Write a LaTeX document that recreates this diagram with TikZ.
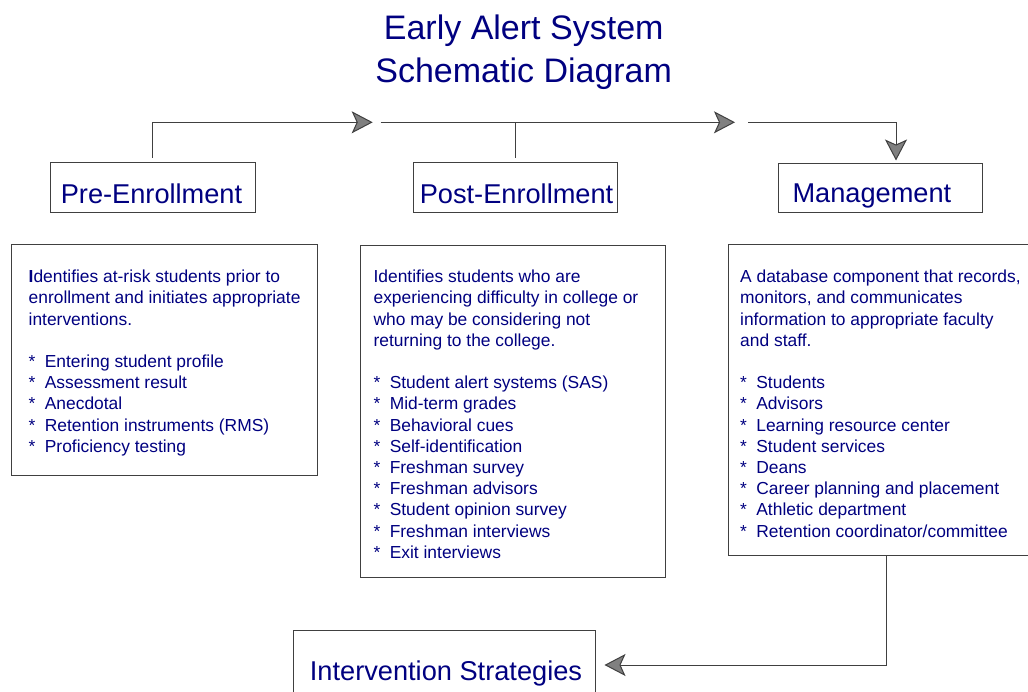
\documentclass[tikz,border=0pt]{standalone}
\usepackage{fontspec}
\setmainfont{Liberation Sans}
\usetikzlibrary{arrows.meta,calc}
\definecolor{navy}{RGB}{0,0,128}
\definecolor{edge}{RGB}{64,64,64}
\definecolor{tipfill}{RGB}{128,128,128}
\newcommand{\bul}[1]{\makebox[16.2pt][l]{*}#1}
\begin{document}
\begin{tikzpicture}[x=1pt,y=1pt,
 box/.style={draw=edge, line width=1pt, rectangle, inner sep=0pt},
 lbl/.style={text=navy, font=\fontsize{27.2}{32}\selectfont, inner sep=0pt, anchor=base west},
 desc/.style={text=navy, font=\fontsize{17.4}{21.2}\selectfont, inner sep=0pt, anchor=north west, align=left},
 ttl/.style={text=navy, font=\fontsize{34}{43.4}\selectfont, inner sep=0pt, anchor=north, align=center},
 conn/.style={draw=edge, line width=1pt},
 arr/.style={conn, -{Stealth[length=21pt,width=22pt,inset=5pt,fill=tipfill]}},
]
\useasboundingbox (0,0) rectangle (1028,-692);

% title
\node[ttl] (title) at (523.7,-9.3) {\rule{0pt}{30pt}Early Alert System\\Schematic Diagram};

% stage boxes
\node[box, minimum width=205pt, minimum height=50pt] (pre) at (152.5,-187.7) {};
\node[lbl] (pretext) at (60.6,-203.3) {Pre-Enrollment};
\node[box, minimum width=204pt, minimum height=50pt] (post) at (515.3,-187.7) {};
\node[lbl] (posttext) at (419.6,-203.3) {Post-Enrollment};
\node[box, minimum width=204.4pt, minimum height=49.4pt] (mgmt) at (880.5,-188) {};
\node[lbl] (mgmttext) at (792.3,-202.7) {Management};
\node[box, minimum width=302.4pt, minimum height=70pt] (inter) at (444.5,-665) {};
\node[lbl] (intertext) at (309.7,-680.7) {Intervention Strategies};

% description boxes
\node[box, minimum width=305.6pt, minimum height=230.7pt] (ldesc) at (164.5,-360.35) {};
\node[box, minimum width=304.3pt, minimum height=332.2pt] (mdesc) at (512.85,-411.6) {};
\node[box, minimum width=311.7pt, minimum height=310.5pt] (rdesc) at (884.15,-400.25) {};

\node[desc] (ltext) at (28.5,-268.5) {\rule{0pt}{14pt}\textbf{I}dentifies at-risk students prior to\\
enrollment and initiates appropriate\\
interventions.\\[21.2pt]
\bul{Entering student profile}\\
\bul{Assessment result}\\
\bul{Anecdotal}\\
\bul{Retention instruments (RMS)}\\
\bul{Proficiency testing}};

\node[desc] (mtext) at (373.4,-268.5) {\rule{0pt}{14pt}Identifies students who are\\
experiencing difficulty in college or\\
who may be considering not\\
returning to the college.\\[21.2pt]
\bul{Student alert systems (SAS)}\\
\bul{Mid-term grades}\\
\bul{Behavioral cues}\\
\bul{Self-identification}\\
\bul{Freshman survey}\\
\bul{Freshman advisors}\\
\bul{Student opinion survey}\\
\bul{Freshman interviews}\\
\bul{Exit interviews}};

\node[desc] (rtext) at (740,-268.5) {\rule{0pt}{14pt}A database component that records,\\
monitors, and communicates\\
information to appropriate faculty\\
and staff.\\[21.2pt]
\bul{Students}\\
\bul{Advisors}\\
\bul{Learning resource center}\\
\bul{Student services}\\
\bul{Deans}\\
\bul{Career planning and placement}\\
\bul{Athletic department}\\
\bul{Retention coordinator/committee}};

% connectors
\coordinate (a1) at (372.7,-122.3);
\coordinate (b0) at (380.7,-122.3);
\coordinate (a2) at (735,-122.3);
\coordinate (c0) at (748.3,-122.3);
\draw[arr] ([yshift=4.4pt]pre.north) |- (a1);
\draw[arr] (b0) -- (a2);
\draw[conn] ([yshift=4.4pt]post.north) -- (post.north |- b0);
\draw[arr] (c0) -| ([xshift=15.5pt,yshift=2.3pt]mgmt.north);
\draw[arr, shorten >=8.3pt] ([xshift=2.5pt]rdesc.south) |- (inter.east);
\end{tikzpicture}
\end{document}
